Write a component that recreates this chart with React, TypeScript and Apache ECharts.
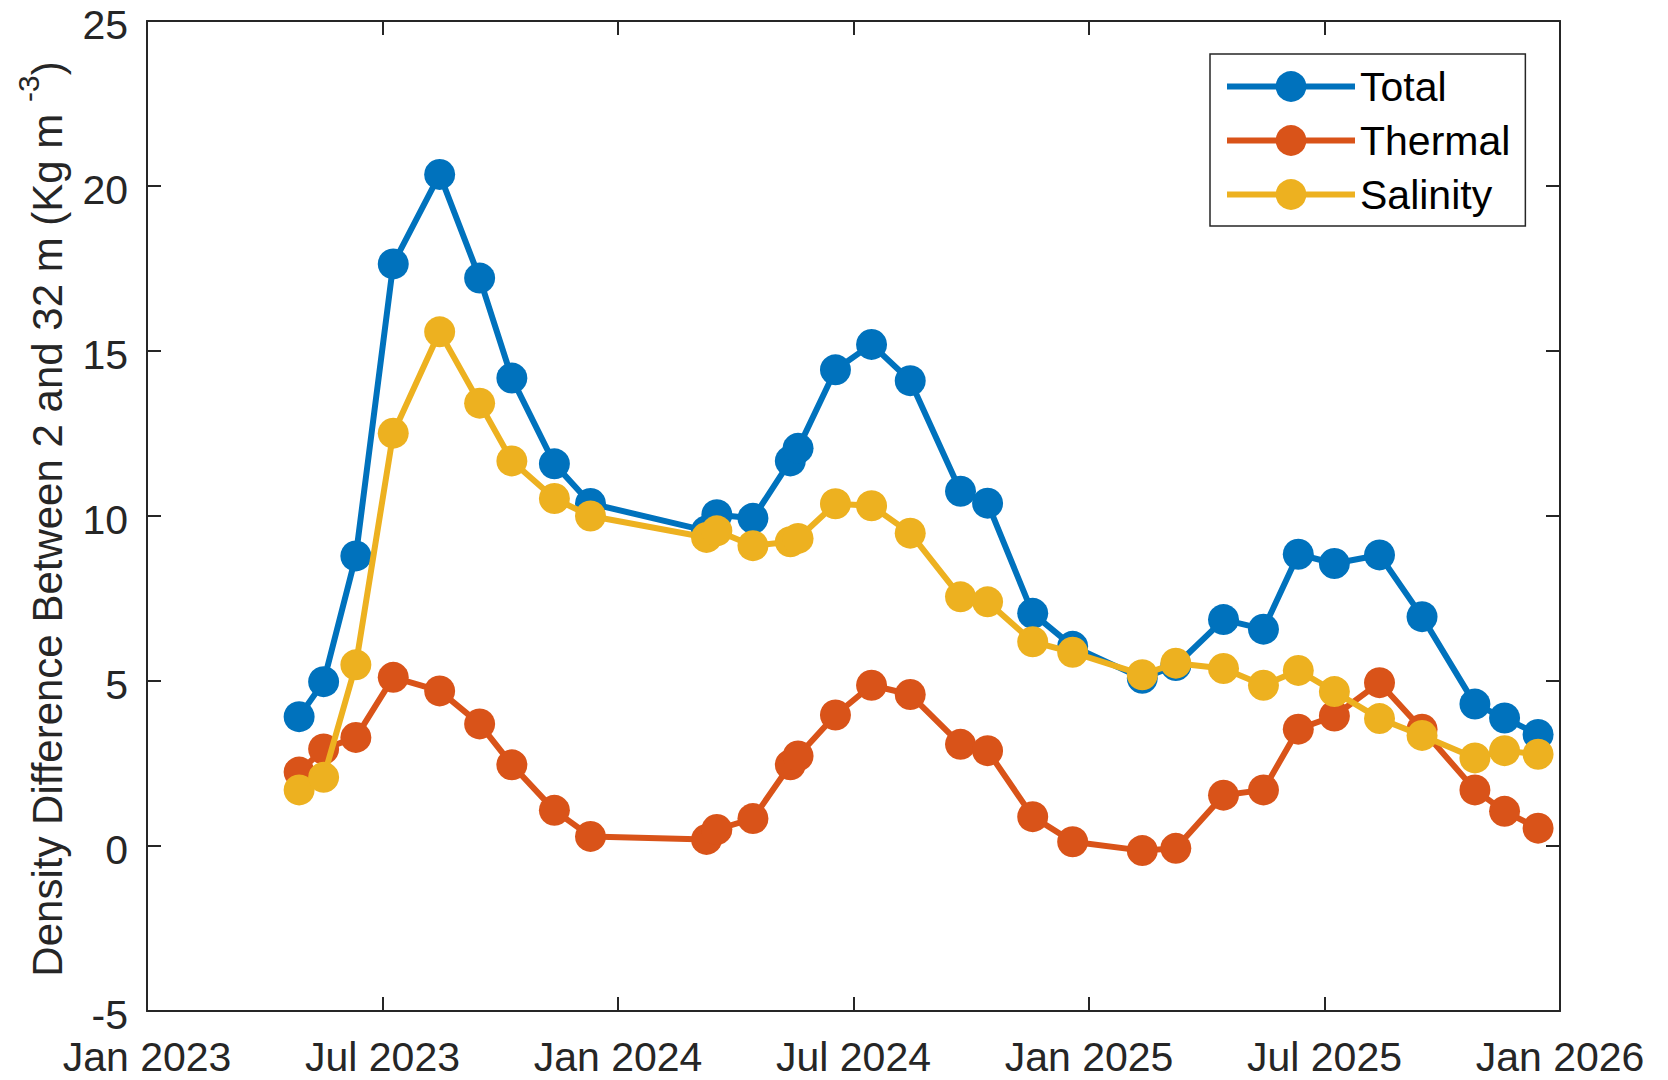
import React, { useEffect, useRef } from "react";
import * as echarts from "echarts";

// Sampling dates
const dates: string[] = [
  "2023-04-29", "2023-05-18", "2023-06-12", "2023-07-11", "2023-08-16", "2023-09-16",
  "2023-10-11", "2023-11-13", "2023-12-11",
  "2024-03-10", "2024-03-18", "2024-04-15", "2024-05-14", "2024-05-20", "2024-06-18",
  "2024-07-16", "2024-08-15", "2024-09-23", "2024-10-14", "2024-11-18", "2024-12-19",
  "2025-02-11", "2025-03-09", "2025-04-15", "2025-05-16", "2025-06-12", "2025-07-10",
  "2025-08-14", "2025-09-16", "2025-10-27", "2025-11-19", "2025-12-15",
];

const totalValues: number[] = [
  3.92, 4.98, 8.79, 17.64, 20.35, 17.21, 14.18, 11.58, 10.38,
  9.55, 10.04, 9.93, 11.67, 12.05, 14.43, 15.2, 14.1, 10.75, 10.39, 7.05, 6.05,
  5.08, 5.47, 6.86, 6.57, 8.84, 8.56, 8.82, 6.95, 4.3, 3.88, 3.38,
];

const thermalValues: number[] = [
  2.24, 2.94, 3.29, 5.11, 4.7, 3.7, 2.46, 1.08, 0.29,
  0.2, 0.5, 0.83, 2.46, 2.73, 3.97, 4.87, 4.59, 3.08, 2.89, 0.89, 0.13,
  -0.14, -0.07, 1.54, 1.7, 3.54, 3.94, 4.95, 3.54, 1.7, 1.05, 0.54,
];

const salinityValues: number[] = [
  1.7, 2.08, 5.49, 12.51, 15.58, 13.42, 11.67, 10.53, 10.0,
  9.35, 9.55, 9.1, 9.22, 9.32, 10.37, 10.31, 9.48, 7.55, 7.4, 6.19, 5.87,
  5.19, 5.54, 5.38, 4.87, 5.32, 4.68, 3.86, 3.35, 2.67, 2.89, 2.78,
];

const seriesNames: string[] = ["Total", "Thermal", "Salinity"];
const seriesColors: string[] = ["#0072BD", "#D95319", "#EDB120"];

const xTickLabels: string[] = [
  "Jan 2023", "Jul 2023", "Jan 2024", "Jul 2024", "Jan 2025", "Jul 2025", "Jan 2026",
];

const yMin = -5;
const yMax = 25;
const yStep = 5;

// x is in thirds of a day since 1 Jan 2023, so half-year ticks fall on integers
const X_SCALE = 3;
const X_START = Date.UTC(2023, 0, 1);
const X_END_DAYS = 1096;
const X_TICK = (X_END_DAYS * X_SCALE) / 6;

function toX(d: string): number {
  const [y, m, dd] = d.split("-").map(Number);
  return ((Date.UTC(y, m - 1, dd) - X_START) / 86400000) * X_SCALE;
}

const FONT = "'Liberation Sans', Arial, Helvetica, sans-serif";
const AXIS_COLOR = "#262626";

export default function App() {
  const ref = useRef<HTMLDivElement>(null);

  useEffect(() => {
    if (!ref.current) return;
    const chart = echarts.init(ref.current, undefined, { renderer: "svg" });
    const valueSets = [totalValues, thermalValues, salinityValues];

    const axisLine = { show: true, onZero: false, lineStyle: { color: AXIS_COLOR, width: 2 } };
    const axisTick = { show: true, inside: true, length: 14, lineStyle: { color: AXIS_COLOR, width: 2 } };

    const xBase = {
      type: "value" as const,
      min: 0,
      max: X_END_DAYS * X_SCALE,
      interval: X_TICK,
      axisLine,
      axisTick,
      splitLine: { show: false },
    };
    const yBase = {
      type: "value" as const,
      min: yMin,
      max: yMax,
      interval: yStep,
      axisLine,
      axisTick,
      splitLine: { show: false },
    };

    chart.setOption({
      animation: false,
      backgroundColor: "#ffffff",
      grid: { left: 147, right: 108, top: 21, bottom: 69, containLabel: false },
      xAxis: [
        {
          ...xBase,
          position: "bottom",
          axisLabel: {
            show: true,
            margin: 25,
            fontSize: 41,
            fontFamily: FONT,
            color: AXIS_COLOR,
            formatter: (v: number) => xTickLabels[Math.round(v / X_TICK)] ?? "",
          },
        },
        { ...xBase, position: "top", axisLabel: { show: false } },
      ],
      yAxis: [
        {
          ...yBase,
          position: "left",
          axisLabel: {
            show: true,
            margin: 19,
            fontSize: 41,
            verticalAlign: "top",
            lineHeight: 8,
            fontFamily: FONT,
            color: AXIS_COLOR,
          },
        },
        { ...yBase, position: "right", axisLabel: { show: false } },
      ],
      legend: {
        orient: "vertical",
        left: 1210,
        top: 54,
        padding: [12, 15, 11, 14],
        itemWidth: 128,
        itemHeight: 38.5,
        itemGap: 13,
        backgroundColor: "#ffffff",
        borderColor: AXIS_COLOR,
        borderWidth: 1.5,
        borderRadius: 0,
        lineStyle: { width: 6 },
        textStyle: { fontSize: 41, color: "#000000", fontFamily: FONT },
        data: seriesNames,
      },
      graphic: [
        {
          type: "text",
          x: 47,
          y: 519,
          rotation: Math.PI / 2,
          silent: true,
          style: {
            text: "{a|Density Difference Between 2 and 32 m (Kg m }{s|-3}{a|)}",
            align: "center",
            verticalAlign: "middle",
            fill: AXIS_COLOR,
            fontFamily: FONT,
            fontSize: 42,
            rich: {
              a: { fontSize: 42, fontFamily: FONT, fill: AXIS_COLOR, lineHeight: 68 },
              s: { fontSize: 30, fontFamily: FONT, fill: AXIS_COLOR, verticalAlign: "top" },
            },
          },
        },
      ],
      series: seriesNames.map((name, i) => ({
        name,
        type: "line",
        xAxisIndex: 0,
        yAxisIndex: 0,
        data: dates.map((d, j) => [toX(d), valueSets[i][j]]),
        symbol: "circle",
        symbolSize: 31,
        showSymbol: true,
        lineStyle: { color: seriesColors[i], width: 6 },
        itemStyle: { color: seriesColors[i] },
        emphasis: { disabled: true },
        z: 2 + i,
      })),
    });

    return () => chart.dispose();
  }, []);

  return (
    <div
      ref={ref}
      style={{ position: "absolute", left: 0, top: 0, width: 1668, height: 1080, background: "#fff" }}
    />
  );
}
